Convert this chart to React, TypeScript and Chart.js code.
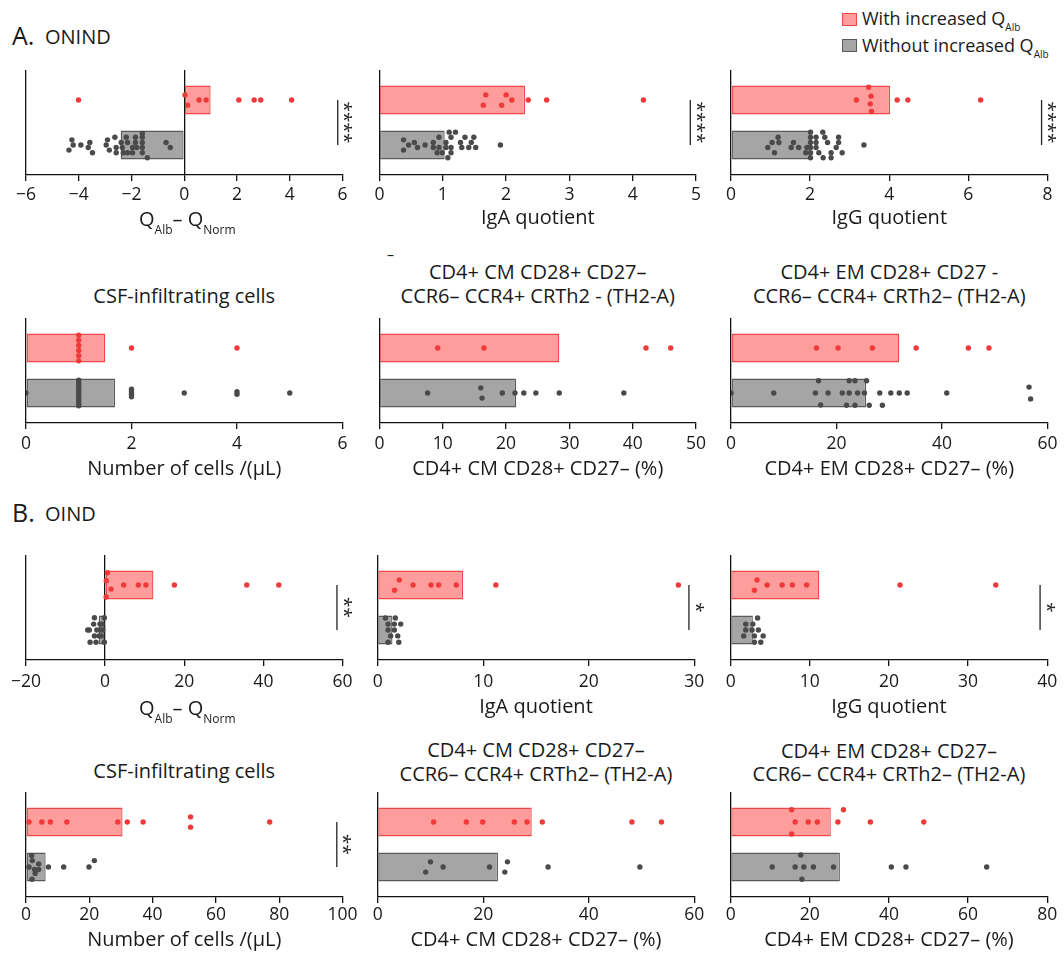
import React, { useEffect, useRef } from 'react';
import { Chart, registerables } from 'chart.js';

Chart.register(...registerables);

// Each point: [value, vertical jitter row inside its bar; negative = above the bar centre]
type Pt = [number, number];

// ---------------- A. ONIND ----------------
const A_QALB_RED: Pt[] = [[-4.01, 0], [0.03, -2], [0.13, 2], [0.56, 0], [0.83, 0], [2.07, 0], [2.65, 0], [2.9, 0], [4.07, 0]];
const A_QALB_GREY: Pt[] = [[-4.26, -2], [-4.21, 0], [-4.37, 2], [-3.92, 0], [-3.58, -1], [-3.64, 1], [-3.48, 3], [-2.91, -2], [-2.96, 0], [-2.84, 2], [-2.63, -3], [-2.58, 1], [-2.58, 3], [-2.39, -1], [-2.35, 1], [-2.31, 3], [-2.2, -3], [-2.15, -1], [-2.15, 3], [-1.96, 1], [-1.96, 3], [-1.85, -3], [-1.85, -1], [-1.8, 1], [-1.59, -4.5], [-1.59, -3], [-1.59, -1], [-1.59, 1], [-1.59, 3], [-1.4, 5], [-0.69, -1], [-0.53, 1]];
const A_IGA_RED: Pt[] = [[1.68, -2], [1.64, 2], [2.0, -2], [1.93, 2], [2.09, 0], [2.35, 0], [2.64, 0], [4.17, 0]];
const A_IGA_GREY: Pt[] = [[0.38, -2], [0.38, 2], [0.46, 0], [0.55, -1], [0.6, 1], [0.72, 0], [0.85, -1], [0.85, 1], [0.91, 3], [0.94, -3], [0.94, 1], [0.99, 3], [1.05, -1], [1.05, 1], [1.08, 5], [1.1, -5], [1.13, -3], [1.13, 3], [1.2, -5], [1.13, 1], [1.28, -1], [1.3, 1], [1.35, -3], [1.41, 1], [1.45, -1], [1.49, -3], [1.52, 1], [1.91, 0]];
const A_IGG_RED: Pt[] = [[3.48, -5], [3.54, -1.5], [3.17, 0], [3.52, 1.5], [3.55, 4.5], [4.2, 0], [4.47, 0], [6.31, 0]];
const A_IGG_GREY: Pt[] = [[0.93, 1], [1.04, -1], [1.1, 3], [1.19, -3], [1.21, -1], [1.52, 1], [1.58, -1], [1.71, 1], [1.89, 3], [1.92, 1], [2.01, -5], [2.01, -3], [2.01, -1], [2.01, 1], [2.01, 3], [2.01, 5], [2.15, -3], [2.15, -1], [2.15, 1], [2.22, 3], [2.32, -5], [2.33, 5], [2.37, -3], [2.44, -1], [2.53, 3], [2.53, 5], [2.66, 1], [2.72, -3], [2.72, -1], [2.81, 3], [3.36, 0]];
const A_CSF_RED: Pt[] = [[1, -5], [1, -3], [1, -1], [1, 1], [1, 3], [1, 5], [2, 0], [4, 0]];
const A_CSF_GREY: Pt[] = [[0, 0], [1, -5], [1, -4], [1, -3], [1, -2], [1, -1], [1, 0], [1, 1], [1, 2], [1, 3], [1, 4], [1, 5], [2, -1.5], [2, -0.5], [2, 0.5], [2, 1.5], [3, 0], [4, -0.5], [4, 0.5], [5, 0]];
const A_CM_RED: Pt[] = [[9.2, 0], [16.5, 0], [42.1, 0], [46.0, 0]];
const A_CM_GREY: Pt[] = [[7.6, 0], [16.0, -2], [16.2, 2], [19.4, 0], [21.4, 0], [22.8, 0], [24.7, 0], [28.4, 0], [38.6, 0]];
const A_EM_RED: Pt[] = [[16.2, 0], [20.3, 0], [26.8, 0], [35.1, 0], [45.0, 0], [48.9, 0]];
const A_EM_GREY: Pt[] = [[0, 0], [8.1, 0], [16.6, -4.8], [16.0, 0], [17.0, 4.7], [18.4, 0], [21.1, 0], [21.9, 4.8], [22.4, -4.8], [22.4, 0], [23.5, -4.8], [23.5, 4.8], [24.0, 0], [25.3, 0], [25.7, -4.8], [26.2, 4.8], [28.2, 0], [28.7, 4.8], [30.3, 0], [31.9, 0], [33.4, 0], [40.9, 0], [56.5, -2.3], [56.8, 2.3]];

const A_RED_MEANS = [1.0, 2.3, 4.02, 1.5, 28.4, 31.9];
const A_GREY_MEANS = [-2.41, 1.03, 2.0, 1.69, 21.6, 25.6];
const A_TICKS = [[-6, -4, -2, 0, 2, 4, 6], [0, 1, 2, 3, 4, 5], [0, 2, 4, 6, 8], [0, 2, 4, 6], [0, 10, 20, 30, 40, 50], [0, 20, 40, 60]];
const A_SIG_TEXT = ['****', '****', '****', '', '', ''];
const A_SIG_X = [5.82, 4.91, 7.85, NaN, NaN, NaN];

// ---------------- B. OIND ----------------
const B_QALB_RED: Pt[] = [[0.6, -4.8], [0.3, -1.7], [1.5, 1.6], [0.25, 4.7], [4.7, 0], [8.4, 0], [10.3, 0], [17.5, 0], [35.8, 0], [43.9, 0]];
const B_QALB_GREY: Pt[] = [[-2.7, -4.8], [-0.2, -4.8], [-2.9, -2.3], [-1.3, -2.3], [-0.8, -2.3], [-4.4, 0], [-4.0, 0], [-2.1, 0], [-1.3, 0], [-0.6, 0], [-2.7, 2.3], [-1.5, 2.3], [-1.0, 2.3], [-3.8, 4.8], [-2.3, 4.8], [-0.2, 4.8]];
const B_IGA_RED: Pt[] = [[2.05, -2], [1.6, 2], [3.35, 0], [5.05, 0], [5.78, 0], [7.45, 0], [11.2, 0], [28.5, 0]];
const B_IGA_GREY: Pt[] = [[0.73, -4.7], [1.67, -4.7], [0.98, -2.3], [1.58, -2.3], [2.18, -2.3], [0.98, 0], [1.58, 0], [1.23, 2.3], [1.9, 2.3], [0.98, 4.8], [2.0, 4.8]];
const B_IGG_RED: Pt[] = [[3.33, -2], [3.0, 2], [4.6, 0], [6.5, 0], [7.8, 0], [9.6, 0], [21.4, 0], [33.5, 0]];
const B_IGG_GREY: Pt[] = [[3.4, -4.7], [1.9, -2.3], [2.8, -2.3], [1.9, 0], [2.7, 0], [3.5, 0], [1.64, 2.3], [3.0, 2.3], [4.1, 2.3], [3.0, 4.8], [3.8, 4.8]];
const B_CSF_RED: Pt[] = [[0.95, 0], [5.0, 0], [7.7, 0], [12.9, 0], [29.0, 0], [32.0, 0], [37.0, 0], [52.0, -2], [52.0, 2], [77.0, 0]];
const B_CSF_GREY: Pt[] = [[1.8, -4.5], [2.0, -2.5], [4.0, -1.2], [0.95, 0], [2.7, 1], [4.0, 1], [7.1, 0], [1.9, 4.8], [2.9, 2.5], [11.9, 0], [19.9, 0], [21.6, -2.5]];
const B_CM_RED: Pt[] = [[10.6, 0], [16.8, 0], [19.9, 0], [25.9, 0], [28.3, 0], [31.2, 0], [48.2, 0], [53.8, 0]];
const B_CM_GREY: Pt[] = [[10.0, -2], [9.1, 2], [12.4, 0], [21.2, 0], [24.6, -2], [24.1, 2], [32.3, 0], [49.7, 0]];
const B_EM_RED: Pt[] = [[15.4, -4.8], [16.3, 0], [15.4, 4.7], [19.6, 0], [21.9, 0], [28.5, -4.8], [27.1, 0], [35.3, 0], [48.8, 0]];
const B_EM_GREY: Pt[] = [[10.5, 0], [16.3, 0], [17.7, -4.7], [18.5, 0], [18.0, 4.8], [20.9, 0], [26.0, 0], [40.6, 0], [44.3, 0], [64.7, 0]];

const B_RED_MEANS = [12.2, 8.1, 11.2, 30.5, 29.2, 25.3];
const B_GREY_MEANS = [-1.6, 1.4, 2.8, 6.2, 22.8, 27.6];
const B_TICKS = [[-20, 0, 20, 40, 60], [0, 10, 20, 30], [0, 10, 20, 30, 40], [0, 20, 40, 60, 80, 100], [0, 20, 40, 60], [0, 20, 40, 60, 80]];
const B_SIG_TEXT = ['**', '*', '*', '**', '', ''];
const B_SIG_X = [58.6, 29.5, 39.1, 98.2, NaN, NaN];

// ---------------- texts ----------------
const X_TITLES = ['', 'IgA quotient', 'IgG quotient', 'Number of cells /(μL)', 'CD4+ CM CD28+ CD27– (%)', 'CD4+ EM CD28+ CD27– (%)'];
const Q_PARTS: [string, boolean][] = [['Q', false], ['Alb', true], ['– ', false], ['Q', false], ['Norm', true]];
const A_PANEL_TITLES = [['CSF-infiltrating cells'], ['CD4+ CM CD28+ CD27–', 'CCR6– CCR4+ CRTh2 - (TH2-A)'], ['CD4+ EM CD28+ CD27 -', 'CCR6– CCR4+ CRTh2– (TH2-A)']];
const B_PANEL_TITLES = [['CSF-infiltrating cells'], ['CD4+ CM CD28+ CD27–', 'CCR6– CCR4+ CRTh2– (TH2-A)'], ['CD4+ EM CD28+ CD27–', 'CCR6– CCR4+ CRTh2– (TH2-A)']];
const LEGEND_LABELS = ['With increased Q', 'Without increased Q'];
const LEGEND_SUB = 'Alb';

// ---------------- style / layout ----------------
const FONT = "'Open Sans', sans-serif";
const TEXT = '#1a1a1a';
const RED_FILL = '#FF9C9C';
const RED_LINE = '#EE4848';
const RED_DOT = '#F03A3A';
const GREY_FILL = '#A5A5A5';
const GREY_LINE = '#5A5A5A';
const GREY_DOT = '#4A4A4A';

const JIT = 0.057;
const Y_MIN = -0.667;
const Y_MAX = 1.667;
const PLOT_W = 316.5;
const PLOT_H = 105;
const PADL = 20;
const PADR = 16;
const PADT = 8;
const PADB = 4;
const ROW_TOP = [70, 318, 555, 792];
const ROW_TICK_PAD = [3.5, 4.5, 6, 1.2];
const ROW_TITLE_MID = [43, 46, 47.5, 43];
const COL_LEFT = [[26, 379.5, 731], [26, 379.5, 731], [26, 377.7, 730.7], [26, 377.7, 730.7]];

Chart.defaults.font.family = FONT;

type PanelSpec = {
  key: string;
  red: Pt[];
  grey: Pt[];
  redMean: number;
  greyMean: number;
  ticks: number[];
  sigText: string;
  sigX: number;
  xTitle: string;
  row: number;
  col: number;
};

const A_RED_PTS = [A_QALB_RED, A_IGA_RED, A_IGG_RED, A_CSF_RED, A_CM_RED, A_EM_RED];
const A_GREY_PTS = [A_QALB_GREY, A_IGA_GREY, A_IGG_GREY, A_CSF_GREY, A_CM_GREY, A_EM_GREY];
const B_RED_PTS = [B_QALB_RED, B_IGA_RED, B_IGG_RED, B_CSF_RED, B_CM_RED, B_EM_RED];
const B_GREY_PTS = [B_QALB_GREY, B_IGA_GREY, B_IGG_GREY, B_CSF_GREY, B_CM_GREY, B_EM_GREY];

const PANELS: PanelSpec[] = [];
for (let i = 0; i < 6; i++) {
  PANELS.push({
    key: 'A' + i, red: A_RED_PTS[i], grey: A_GREY_PTS[i], redMean: A_RED_MEANS[i], greyMean: A_GREY_MEANS[i],
    ticks: A_TICKS[i], sigText: A_SIG_TEXT[i], sigX: A_SIG_X[i], xTitle: X_TITLES[i], row: i < 3 ? 0 : 1, col: i % 3,
  });
}
for (let i = 0; i < 6; i++) {
  PANELS.push({
    key: 'B' + i, red: B_RED_PTS[i], grey: B_GREY_PTS[i], redMean: B_RED_MEANS[i], greyMean: B_GREY_MEANS[i],
    ticks: B_TICKS[i], sigText: B_SIG_TEXT[i], sigX: B_SIG_X[i], xTitle: X_TITLES[i], row: i < 3 ? 2 : 3, col: i % 3,
  });
}

function fmtTick(v: number) {
  return v < 0 ? '\u2212' + Math.abs(v) : String(v);
}

function sigPlugin(text: string, xv: number) {
  return {
    id: 'sigBracket',
    afterDatasetsDraw(chart: any) {
      if (!text) return;
      const ctx = chart.ctx;
      const xs = chart.scales.x;
      const ys = chart.scales.y;
      const px = xs.getPixelForValue(xv);
      const y1 = ys.getPixelForValue(1);
      const y0 = ys.getPixelForValue(0);
      ctx.save();
      ctx.strokeStyle = '#222';
      ctx.lineWidth = 1.3;
      ctx.beginPath();
      ctx.moveTo(px, y1);
      ctx.lineTo(px, y0);
      ctx.stroke();
      ctx.translate(px + 6, (y0 + y1) / 2);
      ctx.rotate(Math.PI / 2);
      ctx.font = `19px ${FONT}`;
      ctx.fillStyle = '#222';
      ctx.textAlign = 'center';
      ctx.textBaseline = 'middle';
      ctx.fillText(text, 0, 0);
      ctx.restore();
    },
  };
}

function qTitlePlugin(mid: number) {
  return {
    id: 'qTitle',
    afterDraw(chart: any) {
      const ctx = chart.ctx;
      const xs = chart.scales.x;
      const ca = chart.chartArea;
      const main = `20px ${FONT}`;
      const sub = `12px ${FONT}`;
      ctx.save();
      ctx.fillStyle = TEXT;
      ctx.textAlign = 'left';
      ctx.textBaseline = 'alphabetic';
      let total = 0;
      for (const [t, s] of Q_PARTS) {
        ctx.font = s ? sub : main;
        total += ctx.measureText(t).width;
      }
      let x = (ca.left + ca.right) / 2 - total / 2 + 3;
      const base = xs.top + mid + 7.8;
      for (const [t, s] of Q_PARTS) {
        ctx.font = s ? sub : main;
        ctx.fillText(t, x, s ? base + 8 : base);
        x += ctx.measureText(t).width;
      }
      ctx.restore();
    },
  };
}

function Panel({ spec }: { spec: PanelSpec }) {
  const ref = useRef<HTMLCanvasElement>(null);
  const left = COL_LEFT[spec.row][spec.col];
  const top = ROW_TOP[spec.row];
  const cx = Math.floor(left) - PADL;
  const padLeft = left - cx;
  const cw = Math.ceil(padLeft + PLOT_W + PADR);
  const padRight = cw - padLeft - PLOT_W;
  const titleMid = ROW_TITLE_MID[spec.row];
  const xH = titleMid + 12;
  const ch = Math.ceil(PADT + PLOT_H + xH + PADB);
  const padBottom = ch - PADT - PLOT_H - xH;

  useEffect(() => {
    if (!ref.current) return;
    const ticks = spec.ticks;
    const plugins: any[] = [sigPlugin(spec.sigText, spec.sigX)];
    if (!spec.xTitle) plugins.push(qTitlePlugin(titleMid));
    const chart = new Chart(ref.current, {
      type: 'bar',
      data: {
        datasets: [
          {
            type: 'scatter',
            data: spec.red.map(([v, j]) => ({ x: v, y: 1 - j * JIT })),
            backgroundColor: RED_DOT,
            borderWidth: 0,
            pointRadius: 2.7,
            order: 0,
          } as any,
          {
            type: 'scatter',
            data: spec.grey.map(([v, j]) => ({ x: v, y: -j * JIT })),
            backgroundColor: GREY_DOT,
            borderWidth: 0,
            pointRadius: 2.7,
            order: 0,
          } as any,
          {
            type: 'bar',
            data: [{ x: spec.redMean, y: 1 }, { x: spec.greyMean, y: 0 }],
            backgroundColor: [RED_FILL, GREY_FILL],
            borderColor: [RED_LINE, GREY_LINE],
            borderWidth: 1.3,
            borderSkipped: false,
            categoryPercentage: 0.8,
            barPercentage: 0.8,
            order: 1,
          } as any,
        ],
      },
      options: {
        indexAxis: 'y',
        responsive: false,
        animation: false,
        devicePixelRatio: 1,
        events: [],
        layout: { padding: { left: padLeft, right: padRight, top: PADT, bottom: padBottom } },
        plugins: { legend: { display: false }, tooltip: { enabled: false } },
        scales: {
          x: {
            type: 'linear',
            position: 'bottom',
            min: ticks[0],
            max: ticks[ticks.length - 1],
            offset: false,
            afterBuildTicks: (s: any) => {
              s.ticks = ticks.map((v) => ({ value: v }));
            },
            afterFit: (s: any) => {
              s.paddingLeft = 0;
              s.paddingRight = 0;
              s.height = xH;
            },
            ticks: {
              font: { family: FONT, size: 17.5 },
              color: TEXT,
              padding: ROW_TICK_PAD[spec.row],
              maxRotation: 0,
              autoSkip: false,
              callback: (v: any) => fmtTick(Number(v)),
            },
            grid: {
              offset: false,
              color: (c: any) => (c.tick && (c.tick.value === 0 || c.index === 0) ? '#111' : 'rgba(0,0,0,0)'),
              lineWidth: 1.3,
              drawTicks: true,
              tickLength: 6,
              tickColor: '#111',
              tickWidth: 1.3,
            },
            border: { display: true, color: '#111', width: 1.3 },
            title: {
              display: !!spec.xTitle,
              text: spec.xTitle,
              color: TEXT,
              font: { family: FONT, size: 20 },
              padding: { top: 0, bottom: 0 },
            },
          },
          y: {
            type: 'linear',
            min: Y_MIN,
            max: Y_MAX,
            display: false,
            offset: false,
            afterBuildTicks: (s: any) => {
              s.ticks = [{ value: 0 }, { value: 1 }];
            },
          },
        },
      } as any,
      plugins,
    });
    return () => chart.destroy();
  }, []);

  return (
    <canvas
      ref={ref}
      width={cw}
      height={ch}
      style={{ position: 'absolute', left: cx, top: top - PADT, width: cw, height: ch }}
    />
  );
}

function BText({ x, y, size, children, center }: { x: number; y: number; size: number; children: any; center?: boolean }) {
  return (
    <div
      style={{
        position: 'absolute',
        left: x,
        top: y - 0.888 * size,
        fontSize: size,
        lineHeight: 1,
        whiteSpace: 'nowrap',
        transform: center ? 'translateX(-50%)' : undefined,
      }}
    >
      {children}
    </div>
  );
}

function PanelTitles({ titles, row, baselines }: { titles: string[][]; row: number; baselines: number[][] }) {
  return (
    <>
      {titles.map((lines, c) =>
        lines.map((t, k) => (
          <BText key={`${row}-${c}-${k}`} x={COL_LEFT[row][c] + PLOT_W / 2} y={baselines[c][k]} size={20} center>
            {t}
          </BText>
        ))
      )}
    </>
  );
}

export default function App() {
  return (
    <div
      style={{
        position: 'absolute',
        left: 0,
        top: 0,
        width: 1064,
        height: 956,
        overflow: 'hidden',
        background: '#fff',
        fontFamily: FONT,
        color: TEXT,
      }}
    >
      <BText x={12} y={45} size={25}>A.</BText>
      <BText x={45} y={45} size={20}>ONIND</BText>
      <BText x={12} y={521.7} size={25}>B.</BText>
      <BText x={45} y={521.7} size={20}>OIND</BText>

      {/* legend */}
      {LEGEND_LABELS.map((lab, i) => (
        <React.Fragment key={lab}>
          <div
            style={{
              position: 'absolute',
              left: 842,
              top: 13 + i * 26,
              width: 14.5,
              height: 13,
              boxSizing: 'border-box',
              background: i === 0 ? RED_FILL : GREY_FILL,
              border: `1.3px solid ${i === 0 ? RED_LINE : GREY_LINE}`,
            }}
          />
          <BText x={862} y={25 + i * 26.5} size={18}>
            {lab}
            <span style={{ fontSize: 10, position: 'relative', top: 6 }}>{LEGEND_SUB}</span>
          </BText>
        </React.Fragment>
      ))}

      <PanelTitles titles={A_PANEL_TITLES} row={1} baselines={[[303.5], [280, 303.3], [280, 303.3]]} />
      <PanelTitles titles={B_PANEL_TITLES} row={3} baselines={[[778.5], [758, 781.3], [758.5, 782]]} />
      <BText x={387} y={260.5} size={14}>–</BText>

      {PANELS.map((p) => (
        <Panel key={p.key} spec={p} />
      ))}
    </div>
  );
}
